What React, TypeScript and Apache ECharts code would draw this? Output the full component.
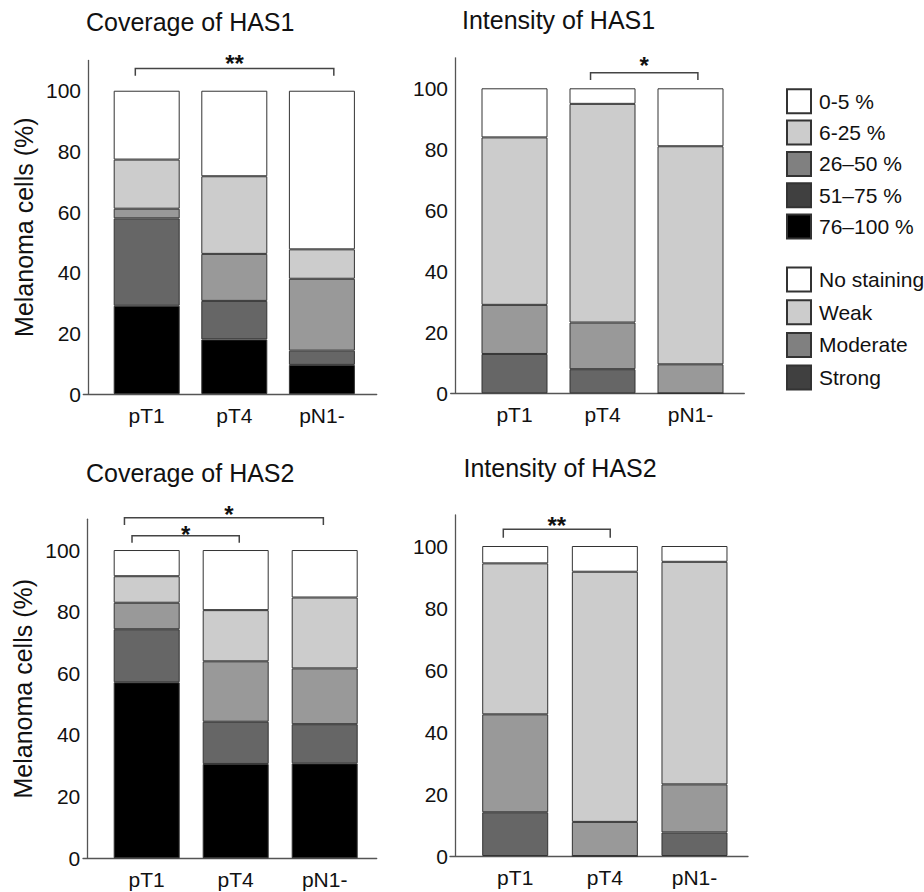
import React, { useEffect, useRef } from "react";
import * as echarts from "echarts";

// ---------- data ----------
const categories = ["pT1", "pT4", "pN1-"];

// stacked bottom -> top
const coverageNames = ["76–100 %", "51–75 %", "26–50 %", "6-25 %", "0-5 %"];
const intensityNames = ["Strong", "Moderate", "Weak", "No staining"];

const coverageHAS1: number[][] = [
  [29.1, 18.0, 9.6],
  [28.8, 12.7, 4.7],
  [3.2, 15.5, 23.7],
  [16.2, 25.6, 9.7],
  [22.7, 28.2, 52.3],
];
const intensityHAS1: number[][] = [
  [12.9, 7.9, 0],
  [16.1, 15.3, 9.5],
  [54.9, 71.7, 71.5],
  [16.1, 5.1, 19.0],
];
const coverageHAS2: number[][] = [
  [57.1, 30.6, 30.8],
  [17.2, 13.7, 12.7],
  [8.6, 19.6, 18.1],
  [8.6, 16.6, 23.0],
  [8.5, 19.5, 15.4],
];
const intensityHAS2: number[][] = [
  [14.1, 0, 7.6],
  [31.6, 11.0, 15.5],
  [48.7, 80.7, 71.8],
  [5.6, 8.3, 5.1],
];

// significance brackets (x in category units, y in % units)
const bracketsCov1 = [{ from: -0.13, to: 2.136, y: 107.3, tip: 104.9, star: 110.8, label: "**" }];
const bracketsInt1 = [{ from: 0.864, to: 2.084, y: 105.1, tip: 102.7, star: 109.5, label: "*" }];
const bracketsCov2 = [
  { from: -0.165, to: 1.04, y: 104.6, tip: 102.4, star: 107.1, label: "*" },
  { from: -0.25, to: 1.985, y: 110.5, tip: 108.1, star: 113.6, label: "*", starX: 0.925 },
];
const bracketsInt2 = [{ from: -0.133, to: 1.06, y: 105.4, tip: 102.7, star: 108.4, label: "**" }];

const titles = ["Coverage of HAS1", "Intensity of HAS1", "Coverage of HAS2", "Intensity of HAS2"];
const yName = "Melanoma cells (%)";

// ---------- styles ----------
const coverageColors = ["#000000", "#666666", "#999999", "#cccccc", "#ffffff"];
const intensityColors = ["#666666", "#999999", "#cccccc", "#ffffff"];
const coverageLegendColors = ["#ffffff", "#cccccc", "#808080", "#404040", "#000000"];
const intensityLegendColors = ["#ffffff", "#cccccc", "#808080", "#404040"];

const FONT = "'Liberation Sans', Arial, Helvetica, sans-serif";
const TEXT = "#111111";
const AXIS = "#555555";

const layouts = [
  { barLeft: 102.9, barW: 262.8, top: 60.4, h: 333.6, frameL: 83.3, frameR: 376.7, yOff: 14.9, tL: 86, tT: 9 },
  { barLeft: 470.5, barW: 264, top: 57.8, h: 335.5, frameL: 450.7, frameR: 744.3, yOff: 15.5, tL: 462, tT: 7 },
  { barLeft: 102.2, barW: 267, top: 519.2, h: 339.1, frameL: 83, frameR: 376.7, yOff: 14.9, tL: 86, tT: 460 },
  { barLeft: 470.4, barW: 268.9, top: 515, h: 341, frameL: 450, frameR: 748, yOff: 15.4, tL: 463.5, tT: 455 },
];

type Bracket = { from: number; to: number; y: number; tip: number; star: number; label: string; starX?: number };

function buildOption() {
  const panels = [
    { data: coverageHAS1, names: coverageNames, colors: coverageColors, brackets: bracketsCov1, yName: true },
    { data: intensityHAS1, names: intensityNames, colors: intensityColors, brackets: bracketsInt1, yName: false },
    { data: coverageHAS2, names: coverageNames, colors: coverageColors, brackets: bracketsCov2, yName: true },
    { data: intensityHAS2, names: intensityNames, colors: intensityColors, brackets: bracketsInt2, yName: false },
  ];

  const grid: any[] = [];
  const xAxis: any[] = [];
  const yAxis: any[] = [];
  const series: any[] = [];
  const title: any[] = [];

  panels.forEach((p, i) => {
    const L = layouts[i];
    const barIdx = i * 2;
    const frameIdx = i * 2 + 1;
    grid[barIdx] = { left: L.barLeft, width: L.barW, top: L.top, height: L.h, containLabel: false };
    grid[frameIdx] = { left: L.frameL, width: L.frameR - L.frameL, top: L.top, height: L.h, containLabel: false };

    xAxis[barIdx] = {
      type: "category",
      gridIndex: barIdx,
      data: categories,
      axisLine: { show: false },
      axisTick: { show: false },
      axisLabel: { fontSize: 21, color: TEXT, fontFamily: FONT, margin: 11 },
      splitLine: { show: false },
    };
    xAxis[frameIdx] = {
      type: "value",
      gridIndex: frameIdx,
      min: 0,
      max: 1,
      axisLine: { show: true, lineStyle: { color: AXIS, width: 1.3 } },
      axisTick: { show: false },
      axisLabel: { show: false },
      splitLine: { show: false },
    };
    yAxis[barIdx] = {
      type: "value",
      gridIndex: barIdx,
      min: 0,
      max: 110,
      interval: 20,
      offset: L.yOff,
      axisLine: { show: true, lineStyle: { color: AXIS, width: 1.3 } },
      axisTick: { show: false },
      splitLine: { show: false },
      axisLabel: {
        fontSize: 21,
        color: TEXT,
        fontFamily: FONT,
        margin: 7,
        formatter: (v: number) => (v > 100 ? "" : String(v)),
      },
      name: p.yName ? yName : "",
      nameLocation: "middle",
      nameGap: 52,
      nameTextStyle: { fontSize: 25, color: TEXT, fontFamily: FONT },
    };
    yAxis[frameIdx] = {
      type: "value",
      gridIndex: frameIdx,
      min: 0,
      max: 110,
      show: false,
    };

    p.names.forEach((name, k) => {
      series.push({
        type: "bar",
        name,
        stack: "s" + i,
        xAxisIndex: barIdx,
        yAxisIndex: barIdx,
        barWidth: 66,
        data: p.data[k],
        itemStyle: { color: p.colors[k], borderColor: "#333333", borderWidth: 1 },
        emphasis: { disabled: true },
      });
    });

    const br: Bracket[] = p.brackets as Bracket[];
    series.push({
      type: "custom",
      name: "sig" + i,
      xAxisIndex: barIdx,
      yAxisIndex: barIdx,
      clip: false,
      data: br.map((b) => [0, b.y]),
      renderItem: (params: any, api: any) => {
        const b = br[params.dataIndex];
        const c0 = api.coord([0, b.y]);
        const c1 = api.coord([1, b.y]);
        const step = c1[0] - c0[0];
        const x1 = c0[0] + b.from * step;
        const x2 = c0[0] + b.to * step;
        const yl = c0[1];
        const yt = api.coord([0, b.tip])[1];
        const ys = api.coord([0, b.star])[1];
        const xs = b.starX !== undefined ? c0[0] + b.starX * step : (x1 + x2) / 2;
        return {
          type: "group",
          children: [
            {
              type: "polyline",
              shape: { points: [[x1, yt], [x1, yl], [x2, yl], [x2, yt]] },
              style: { stroke: "#444444", lineWidth: 1.5, fill: null },
            },
            {
              type: "text",
              x: xs,
              y: ys + 6,
              style: {
                text: b.label,
                fontSize: 24,
                fontWeight: "bold",
                fontFamily: FONT,
                fill: TEXT,
                align: "center",
                verticalAlign: "middle",
              },
            },
          ],
        };
      },
    });

    title.push({
      text: titles[i],
      left: L.tL,
      top: L.tT,
      padding: 0,
      textStyle: { fontSize: 25, fontWeight: "normal", color: TEXT, fontFamily: FONT },
    });
  });

  const legendCommon = {
    orient: "vertical",
    left: 786,
    padding: 0,
    itemWidth: 24,
    itemHeight: 24,
    icon: "rect",
    selectedMode: false,
    itemStyle: { borderColor: "#333333", borderWidth: 2 },
    textStyle: { fontSize: 21, color: TEXT, fontFamily: FONT, lineHeight: 24, padding: [0, 0, 0, 3] },
  };
  const covLegendOrder = ["0-5 %", "6-25 %", "26–50 %", "51–75 %", "76–100 %"];
  const intLegendOrder = ["No staining", "Weak", "Moderate", "Strong"];

  const legend = [
    {
      ...legendCommon,
      top: 88.3,
      itemGap: 5.3,
      data: covLegendOrder.map((n, k) => ({ name: n, itemStyle: { color: coverageLegendColors[k] } })),
    },
    {
      ...legendCommon,
      top: 266.5,
      itemGap: 6.7,
      data: intLegendOrder.map((n, k) => ({ name: n, itemStyle: { color: intensityLegendColors[k] } })),
    },
  ];

  return {
    animation: false,
    backgroundColor: "#ffffff",
    textStyle: { fontFamily: FONT },
    title,
    legend,
    grid,
    xAxis,
    yAxis,
    series,
  };
}

export default function App() {
  const ref = useRef<HTMLDivElement>(null);
  useEffect(() => {
    if (!ref.current) return;
    const chart = echarts.init(ref.current, undefined, { renderer: "svg" });
    chart.setOption(buildOption() as any);
    return () => chart.dispose();
  }, []);
  return (
    <div
      ref={ref}
      style={{ position: "absolute", left: 0, top: 0, width: 924, height: 892, background: "#fff" }}
    />
  );
}
